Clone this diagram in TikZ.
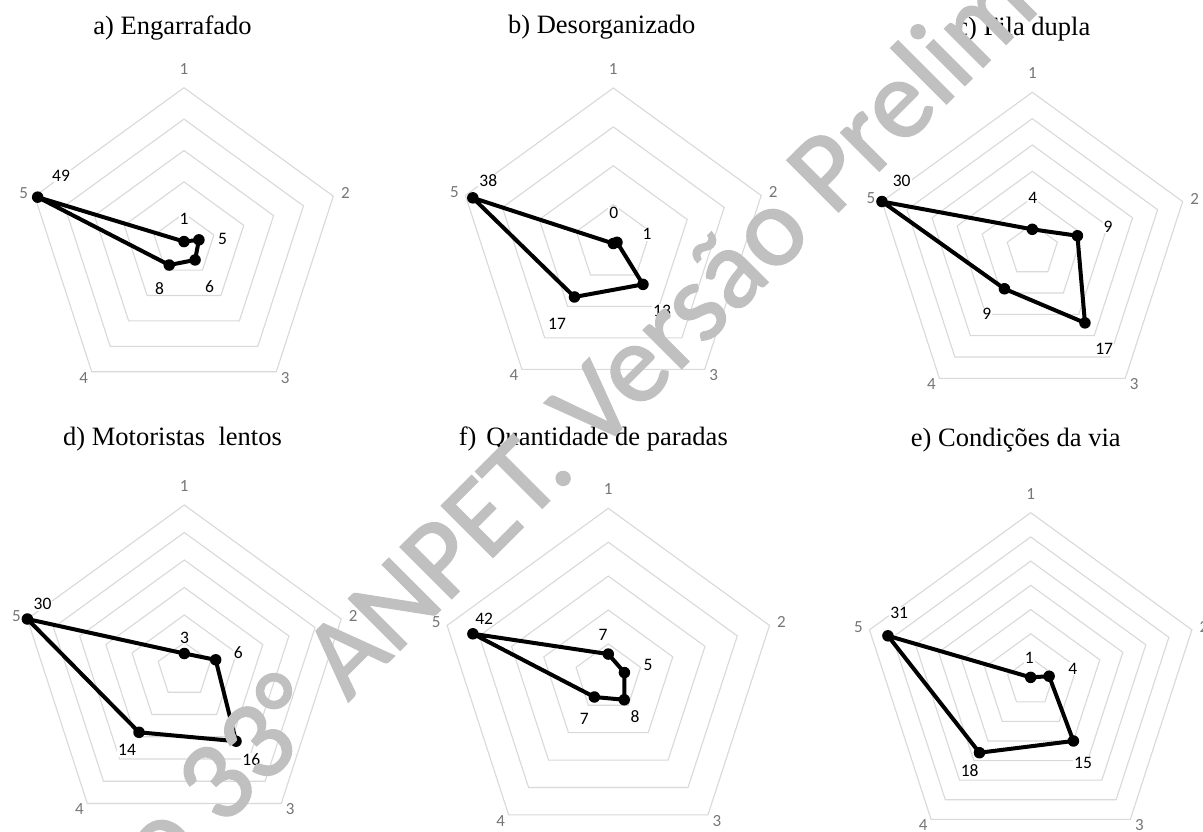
\documentclass[tikz,border=0pt]{standalone}
\usepackage{fontspec}
\setmainfont{Liberation Serif}
\newfontfamily\calib{Carlito}
\newfontfamily\wmcalib[FakeBold=1.6]{Carlito}
\usetikzlibrary{calc}
\definecolor{gridc}{RGB}{217,217,217}
\definecolor{axc}{RGB}{118,118,118}
\definecolor{wmc}{RGB}{192,192,192}
% #1 id, #2 cx, #3 cy, #4 R, #5 rings, #6 max, #7 values
\newcommand\radar[7]{%
  \coordinate (#1c) at (#2,#3);
  \foreach \k in {1,...,#5}{%
    \pgfmathsetmacro\rr{#4*\k/#5}%
    \draw[gridline] ($(#1c)+(-90:\rr)$) -- ($(#1c)+(-18:\rr)$) -- ($(#1c)+(54:\rr)$) -- ($(#1c)+(126:\rr)$) -- ($(#1c)+(198:\rr)$) -- cycle;
  }
  \foreach \a/\dx/\dy [count=\i] in {-90/0/-19,-18/12/-3,54/9/6,126/-8/6,198/-11/-3}{%
    \node[axlab] (#1a\i) at ($(#1c)+(\a:#4)+(\dx,\dy)$) {\i};
  }
  \foreach \v [count=\i] in {#7}{%
    \pgfmathsetmacro\ang{72*(\i-1)-90}%
    \pgfmathsetmacro\rv{#4*\v/#6}%
    \node[dot] (#1p\i) at ($(#1c)+(\ang:\rv)$) {};
  }
  \draw[dataline] (#1p1.center) -- (#1p2.center) -- (#1p3.center) -- (#1p4.center) -- (#1p5.center) -- cycle;
}
\begin{document}
\begin{tikzpicture}[x=1pt,y=-1pt]
\tikzset{
  gridline/.style={draw=gridc, line width=1.1pt},
  axlab/.style={font=\calib\fontsize{17}{17}\selectfont, text=axc, inner sep=0pt},
  dlab/.style={font=\calib\fontsize{17.5}{17.5}\selectfont, text=black, fill=white, inner sep=1pt},
  dot/.style={circle, fill=black, inner sep=0pt, minimum size=11.5pt},
  dataline/.style={draw=black, line width=4pt, line join=round},
  ttl/.style={font=\fontsize{26.5}{28}\selectfont, anchor=base, inner sep=0pt},
  wm/.style={font=\wmcalib\fontsize{113}{118}\selectfont, text=wmc, inner sep=0pt, anchor=base west, rotate=45}
}
\useasboundingbox (0,0) rectangle (1203,831);
\clip (0,0) rectangle (1203,831);
\fill[white] (0,0) rectangle (1203,831);

% titles
\node[ttl] (ta) at (172.5,34.3) {a) Engarrafado};
\node[ttl] (tb) at (601.7,33.5) {b) Desorganizado};
\node[ttl] (tc) at (1023.3,35) {c) Fila dupla};
\node[ttl] (td) at (172.5,445) {d) Motoristas\ \ lentos};
\node[ttl] (tf) at (593.3,445) {f)\hspace{10pt}Quantidade de paradas};
\node[ttl] (te) at (1015.8,446) {e) Condições da via};

% charts
\radar{a}{184}{244.7}{157}{5}{50}{1,5,6,8,49}
\radar{b}{613.3}{243.5}{155.5}{4}{40}{0,1,13,17,38}
\radar{c}{1032.3}{250.4}{158.1}{6}{30}{4,9,17,9,30}
\radar{d}{184.3}{670}{165}{6}{30}{3,6,16,14,30}
\radar{f}{608.3}{677.8}{169.5}{5}{50}{7,5,8,7,42}
\radar{e}{1030.7}{682.2}{169.5}{7}{35}{1,4,15,18,31}

% data labels
\node[dlab] (al1) at (184,218.6) {1};
\node[dlab] (al2) at (222.5,239) {5};
\node[dlab] (al3) at (209.5,286.3) {6};
\node[dlab] (al4) at (159.5,288.3) {8};
\node[dlab] (al5) at (61,175.8) {49};

\node[dlab] (bl1) at (613.7,213.3) {0};
\node[dlab] (bl2) at (647,234.3) {1};
\node[dlab] (bl3) at (662,310.8) {13};
\node[dlab] (bl4) at (557,324.2) {17};
\node[dlab] (bl5) at (488.3,180.8) {38};

\node[dlab] (cl1) at (1032.8,198.3) {4};
\node[dlab] (cl2) at (1108,226.7) {9};
\node[dlab] (cl3) at (1104.2,349.2) {17};
\node[dlab] (cl4) at (986.7,314.2) {9};
\node[dlab] (cl5) at (901.7,180.8) {30};

\node[dlab] (dl1) at (184.5,637.5) {3};
\node[dlab] (dl2) at (238.3,652.2) {6};
\node[dlab] (dl3) at (251.3,759.8) {16};
\node[dlab] (dl4) at (127,750.2) {14};
\node[dlab] (dl5) at (42.5,604) {30};

\node[dlab] (fl1) at (603,635) {7};
\node[dlab] (fl2) at (648,665) {5};
\node[dlab] (fl3) at (635,716.2) {8};
\node[dlab] (fl4) at (584.3,719.2) {7};
\node[dlab] (fl5) at (484.2,618.7) {42};

\node[dlab] (el1) at (1029.2,657.8) {1};
\node[dlab] (el2) at (1072.8,668.5) {4};
\node[dlab] (el3) at (1083,763) {15};
\node[dlab] (el4) at (969.7,770.8) {18};
\node[dlab] (el5) at (899.2,613.3) {31};

% watermark
\coordinate (wmstart) at (161.6,888.4);
\node[wm] (wmark) at (wmstart) {o 33° ANPET. Versão Prelim};
\end{tikzpicture}
\end{document}
